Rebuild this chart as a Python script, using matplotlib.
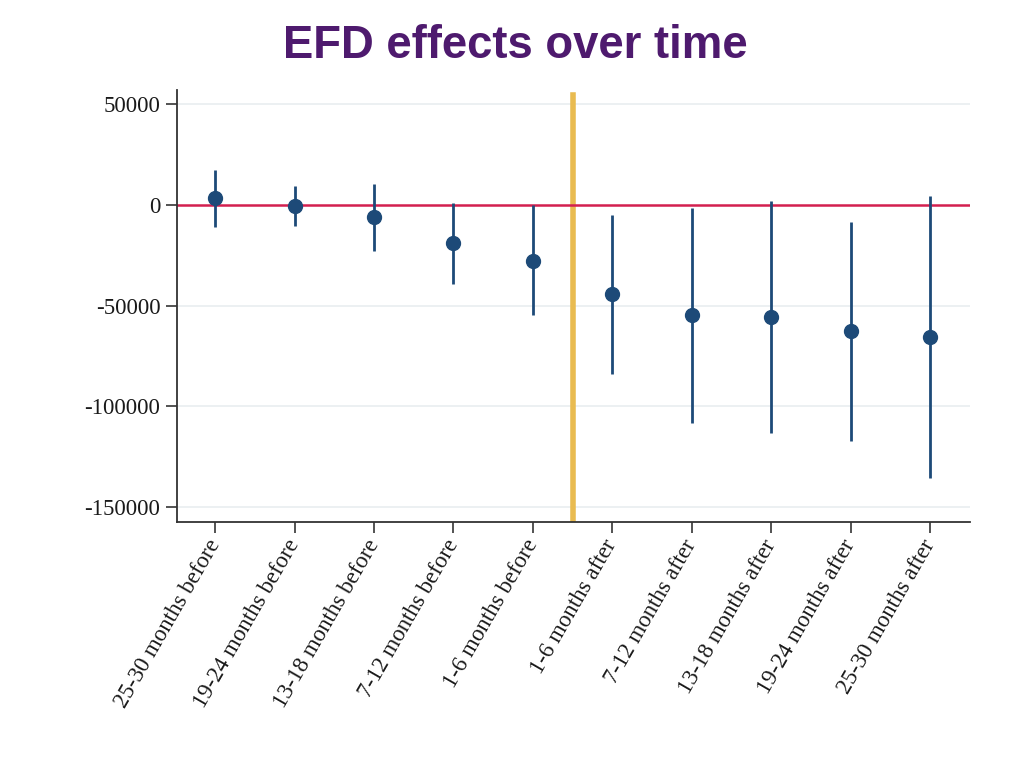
import matplotlib
matplotlib.use("Agg")
import matplotlib.pyplot as plt
import numpy as np

categories = ["25-30 months before", "19-24 months before", "13-18 months before",
              "7-12 months before", "1-6 months before", "1-6 months after",
              "7-12 months after", "13-18 months after", "19-24 months after",
              "25-30 months after"]
estimates = [3500, -500, -6000, -18900, -27800, -44200, -54600, -55600, -62600, -65600]
ci_upper = [17400, 9400, 10400, 1000, 0, -5000, -1500, 2000, -8400, 4500]
ci_lower = [-10900, -10400, -22900, -39200, -54600, -84000, -108300, -113300, -117200, -135600]
yticks = [50000, 0, -50000, -100000, -150000]

fig = plt.figure(figsize=(10.24, 7.68), dpi=100)
ax = fig.add_axes([0.1729, 0.3203, 0.7741, 0.5625])

x = np.arange(1, len(categories) + 1)
navy = "#1d4a78"

for yt in yticks:
    if yt != 0:
        ax.axhline(yt, color="#e9edf0", lw=1.2, zorder=0)

ax.vlines(x, ci_lower, ci_upper, color=navy, lw=2, zorder=3)
ax.plot(x, estimates, "o", color=navy, markersize=10, zorder=4)
ax.axhline(0, color="#d31f4f", lw=1.8, zorder=2)
ax.axvline(5.5, color="#e9bb50", lw=4, zorder=1, ymax=0.988)

ax.set_xlim(0.52, 10.5)
ax.set_ylim(-157500, 57000)
ax.set_yticks(yticks)
ax.set_yticklabels([str(v) for v in yticks])
ax.set_xticks(x)
ax.set_xticklabels(categories, rotation=60, ha="right", va="center", rotation_mode="anchor")

for lab in ax.get_xticklabels() + ax.get_yticklabels():
    lab.set_fontfamily("Liberation Serif")
    lab.set_fontsize(16.5)
    lab.set_color("#1a1a1a")

ax.spines["top"].set_visible(False)
ax.spines["right"].set_visible(False)
for s in ("left", "bottom"):
    ax.spines[s].set_color("#333333")
    ax.spines[s].set_linewidth(1.3)
ax.tick_params(axis="y", direction="out", length=8, width=1.3, color="#444444", pad=4)
ax.tick_params(axis="x", direction="out", length=8, width=1.3, color="#444444", pad=6)

fig.text(0.503, 0.94, "EFD effects over time", ha="center", va="center",
         fontsize=32.8, fontweight="bold", color="#4e1a6e", family="Liberation Sans")

fig.savefig("out.png", dpi=100)
